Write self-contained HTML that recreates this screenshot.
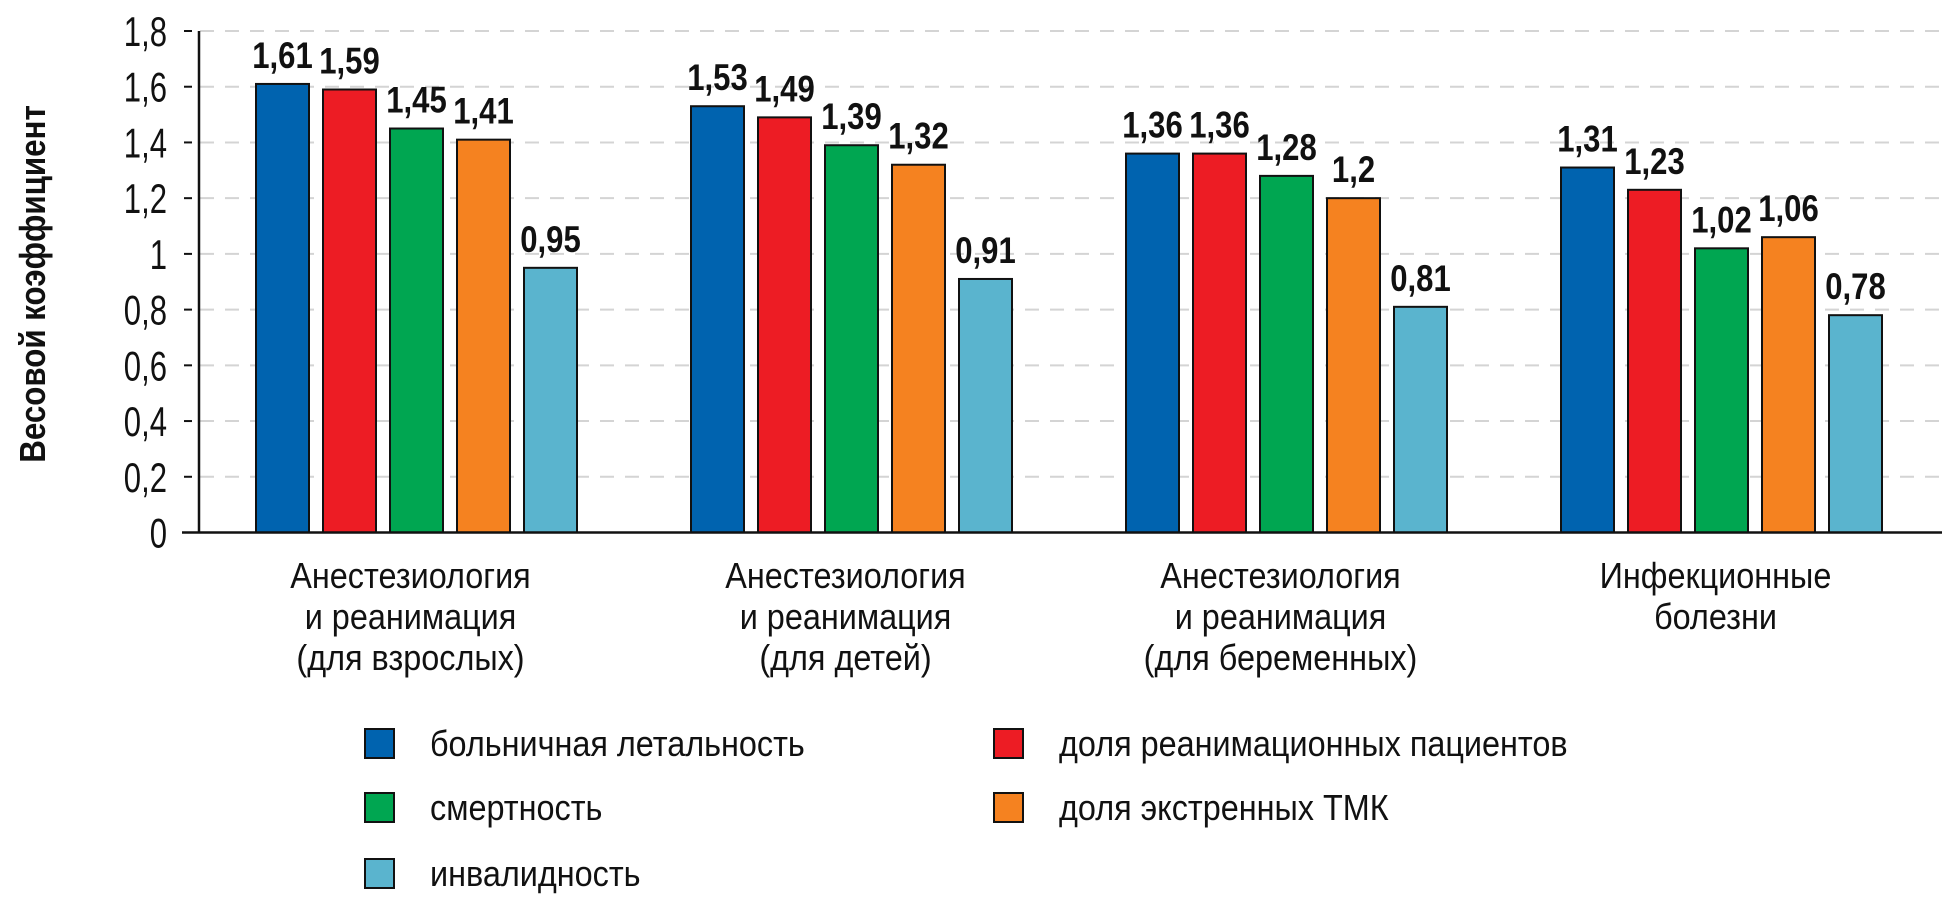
<!DOCTYPE html>
<html><head><meta charset="utf-8"><style>
html,body{margin:0;padding:0;background:#fff;}
svg{display:block;font-family:"Liberation Sans","DejaVu Sans",sans-serif;}
</style></head><body>
<svg id="chart" width="1942" height="910" viewBox="0 0 1942 910"></svg>
<script>
const categories = [["Анестезиология","и реанимация","(для взрослых)"],["Анестезиология","и реанимация","(для детей)"],["Анестезиология","и реанимация","(для беременных)"],["Инфекционные","болезни"]];
const seriesNames = ["больничная летальность","доля реанимационных пациентов","смертность","доля экстренных ТМК","инвалидность"];
const lethality = [1.61,1.53,1.36,1.31];
const reanimation = [1.59,1.49,1.36,1.23];
const mortality = [1.45,1.39,1.28,1.02];
const emergency = [1.41,1.32,1.2,1.06];
const disability = [0.95,0.91,0.81,0.78];
const labelLethality = ["1,61","1,53","1,36","1,31"];
const labelReanimation = ["1,59","1,49","1,36","1,23"];
const labelMortality = ["1,45","1,39","1,28","1,02"];
const labelEmergency = ["1,41","1,32","1,2","1,06"];
const labelDisability = ["0,95","0,91","0,81","0,78"];
const yTicks = [0,0.2,0.4,0.6,0.8,1,1.2,1.4,1.6,1.8];
const yTickLabels = ["0","0,2","0,4","0,6","0,8","1","1,2","1,4","1,6","1,8"];

const series = [lethality,reanimation,mortality,emergency,disability];
const seriesLabels = [labelLethality,labelReanimation,labelMortality,labelEmergency,labelDisability];
const colors = ["#0063AF","#ED1C24","#00A651","#F58220","#5AB4CE"];
const NS = "http://www.w3.org/2000/svg";
const svg = document.getElementById("chart");
const y0 = 532.5, yTop = 31, yMax = 1.8;
function yScale(v){ return y0 - (v / yMax) * (y0 - yTop); }
const groupStart = 256, groupStep = 435, barStep = 67, barW = 53;
function xScale(g, s){ return groupStart + g * groupStep + s * barStep; }
function mk(tag, attrs){ const e = document.createElementNS(NS, tag); for (const k in attrs) e.setAttribute(k, attrs[k]); svg.appendChild(e); return e; }
function txt(x, y, s, size, weight, anchor, sx){
  const t = mk("text", {transform:`translate(${x},${y}) scale(${sx},1)`, "font-size":size, "font-weight":weight, "text-anchor":anchor, fill:"#111"});
  t.textContent = s; return t;
}
yTicks.forEach((v, i) => {
  const y = yScale(v);
  if (v > 0) {
    const g = mk("line", {x1:200, x2:1942, y1:y, y2:y, stroke:"#d4d4d4", "stroke-width":2, "stroke-dasharray":"14 11"});
    
    
  }
  const tk = mk("line", {x1:184, x2:192, y1:y, y2:y, stroke:"#111", "stroke-width":2});
  
  
  const l = txt(167, y + 15, yTickLabels[i], 42, "normal", "end", 0.74);
  
  
});
const ya = mk("line", {x1:199, x2:199, y1:yTop, y2:y0, stroke:"#111", "stroke-width":2.5});


series.forEach((vals, s) => {
  vals.forEach((v, g) => {
    const x = xScale(g, s), y = yScale(v);
    const r = mk("rect", {x:x, y:y, width:barW, height:y0 - y, fill:colors[s], stroke:"#111", "stroke-width":2});
    
    
    const l = txt(x + barW/2, y - 16, seriesLabels[s][g], 37, "bold", "middle", 0.84);
    
    
  });
});
const xa = mk("line", {x1:182, x2:1942, y1:y0, y2:y0, stroke:"#111", "stroke-width":2.5});


categories.forEach((lines, g) => {
  const cx = xScale(g, 0) + (4 * barStep + barW) / 2 - 6;
  lines.forEach((ln, i) => {
    const t = txt(cx, 588 + i * 41, ln, 36, "normal", "middle", 0.9);
    
    
  });
});
const yt = mk("text", {transform:"translate(45,284) rotate(-90) scale(0.87,1)", "font-size":36, "font-weight":"bold", "text-anchor":"middle", fill:"#111"});
yt.textContent = "Весовой коэффициент";


const legPos = [[365,743],[994,743],[365,807],[994,807],[365,873]];
seriesNames.forEach((n, s) => {
  const [x, y] = legPos[s];
  const r = mk("rect", {x:x, y:y - 14, width:29, height:29, fill:colors[s], stroke:"#111", "stroke-width":2});
  
  
  const t = txt(x + 65, y + 13, n, 36, "normal", "start", 0.9);
  
  
});
</script>
</body></html>
